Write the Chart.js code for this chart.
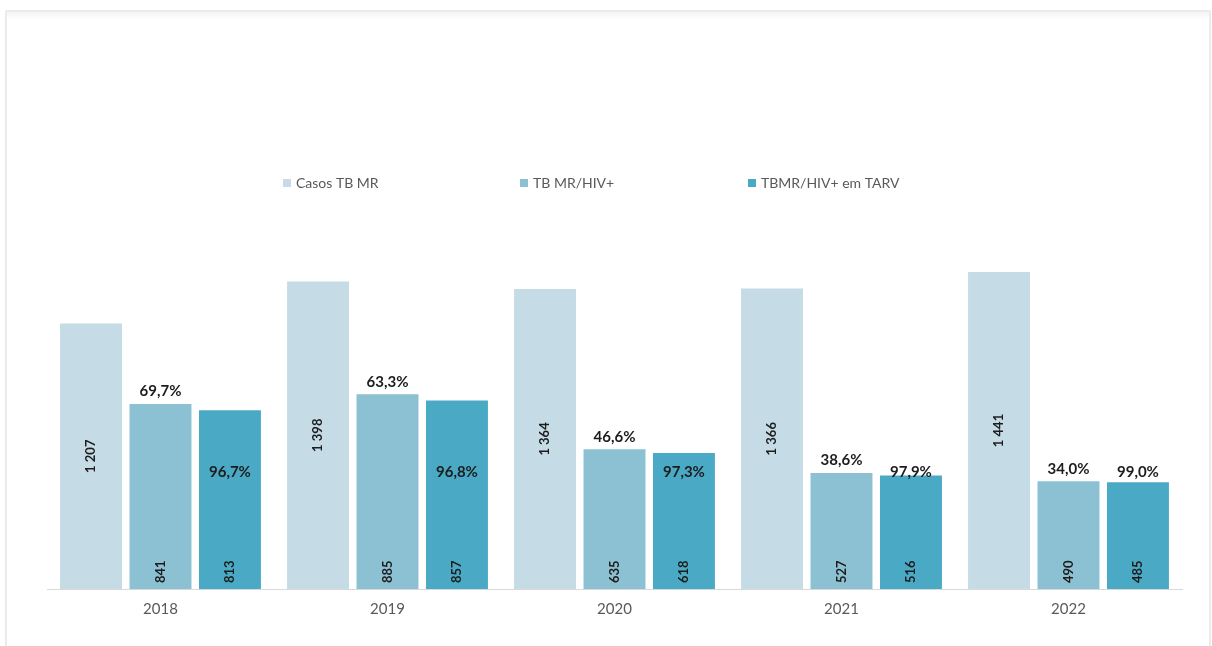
<!DOCTYPE html>
<html>
<head>
<meta charset="utf-8">
<script src="https://cdn.jsdelivr.net/npm/chart.js@4/dist/chart.umd.min.js"></script>
<style>
  html, body { margin: 0; padding: 0; background: #ffffff; }
  #wrap { position: relative; width: 1212px; height: 646px; overflow: hidden; }
  #c { position: absolute; left: 0; top: 0; }
  #frame {
    position: absolute; left: 5px; top: 10px; width: 1202px; height: 700px;
    border: 2px solid #ebebeb; box-shadow: inset 0 10px 8px -8px #f0f0f0;
    pointer-events: none;
  }
</style>
</head>
<body>
<div id="wrap">
  <canvas id="c" width="1212" height="646"></canvas>
  <div id="frame"></div>
</div>
<script>
// Casos de TB multirresistente e co-infecção TB MR/HIV, 2018-2022
const years = ['2018', '2019', '2020', '2021', '2022'];
const casosTBMR = [1207, 1398, 1364, 1366, 1441];
const tbmrHiv = [841, 885, 635, 527, 490];
const tbmrHivTarv = [813, 857, 618, 516, 485];
// % TB MR/HIV+ sobre casos TB MR, e % em TARV sobre TB MR/HIV+
const pctHiv = [69.7, 63.3, 46.6, 38.6, 34.0];
const pctTarv = [96.7, 96.8, 97.3, 97.9, 99.0];
const seriesNames = ['Casos TB MR', 'TB MR/HIV+', 'TBMR/HIV+ em TARV'];

const colors = ['#c5dce6', '#8cc0d3', '#4aaac6'];
const FONT = 'Lato, "Open Sans", sans-serif';
const TEXT_GREY = '#595959';
const LABEL_DARK = '#1c1c1c';

const fmtInt = v => String(v).replace(/\B(?=(\d{3})+(?!\d))/g, ' ');
const fmtPct = v => v.toFixed(1).replace('.', ',') + '%';

// legend row drawn above the plot
const legendRow = {
  id: 'legendRow',
  afterDraw(chart, args, opts) {
    const ctx = chart.ctx;
    ctx.save();
    ctx.font = '14px ' + FONT;
    ctx.textBaseline = 'middle';
    ctx.textAlign = 'left';
    chart.data.datasets.forEach((ds, i) => {
      const x = opts.starts[i];
      ctx.fillStyle = ds.backgroundColor;
      ctx.fillRect(x, opts.y - 4, 8, 8);
      ctx.fillStyle = TEXT_GREY;
      ctx.fillText(ds.label, x + 13, opts.y);
    });
    ctx.restore();
  }
};

// value and percentage labels on the bars
const barLabels = {
  id: 'barLabels',
  afterDatasetsDraw(chart, args, opts) {
    const ctx = chart.ctx;
    const y = chart.scales.y;
    const base = y.getPixelForValue(0);
    ctx.save();
    ctx.fillStyle = LABEL_DARK;

    // totals, vertical, centred in the bar
    ctx.font = 'bold 13px ' + FONT;
    chart.getDatasetMeta(0).data.forEach((bar, i) => {
      ctx.save();
      ctx.translate(bar.x, (bar.y + base) / 2);
      ctx.rotate(-Math.PI / 2);
      ctx.textAlign = 'center';
      ctx.textBaseline = 'middle';
      ctx.fillText(fmtInt(casosTBMR[i]), 0, 0);
      ctx.restore();
    });

    // counts, vertical, at the foot of the bar
    [[1, tbmrHiv], [2, tbmrHivTarv]].forEach(([d, vals]) => {
      chart.getDatasetMeta(d).data.forEach((bar, i) => {
        ctx.save();
        ctx.translate(bar.x, base - 6);
        ctx.rotate(-Math.PI / 2);
        ctx.textAlign = 'left';
        ctx.textBaseline = 'middle';
        ctx.fillText(fmtInt(vals[i]), 0, 0);
        ctx.restore();
      });
    });

    // share HIV+ above the HIV+ bar
    ctx.font = 'bold 15px ' + FONT;
    ctx.textAlign = 'center';
    ctx.textBaseline = 'bottom';
    chart.getDatasetMeta(1).data.forEach((bar, i) => {
      ctx.fillText(fmtPct(pctHiv[i]), bar.x, bar.y - 5);
    });

    // share on ART at a common level
    ctx.textBaseline = 'middle';
    const yT = y.getPixelForValue(opts.tarvLevel);
    chart.getDatasetMeta(2).data.forEach((bar, i) => {
      ctx.fillText(fmtPct(pctTarv[i]), bar.x, yT);
    });
    ctx.restore();
  }
};

new Chart(document.getElementById('c'), {
  type: 'bar',
  data: {
    labels: years,
    datasets: [
      { label: seriesNames[0], data: casosTBMR, backgroundColor: colors[0] },
      { label: seriesNames[1], data: tbmrHiv, backgroundColor: colors[1] },
      { label: seriesNames[2], data: tbmrHivTarv, backgroundColor: colors[2] }
    ]
  },
  options: {
    responsive: false,
    devicePixelRatio: 1,
    animation: false,
    events: [],
    categoryPercentage: 0.918,
    barPercentage: 0.892,
    layout: { padding: { left: 47, right: 30, top: 237, bottom: 17 } },
    plugins: {
      legend: { display: false },
      tooltip: { enabled: false },
      legendRow: { y: 183, starts: [283, 520, 748] },
      barLabels: { tarvLevel: 530 }
    },
    scales: {
      x: {
        grid: { display: false, drawTicks: false },
        border: { display: true, color: '#d9d9d9', width: 1 },
        ticks: { color: TEXT_GREY, font: { family: FONT, size: 15 }, padding: 11 }
      },
      y: { display: false, min: 0, max: 1600 }
    }
  },
  plugins: [legendRow, barLabels]
});
</script>
</body>
</html>
